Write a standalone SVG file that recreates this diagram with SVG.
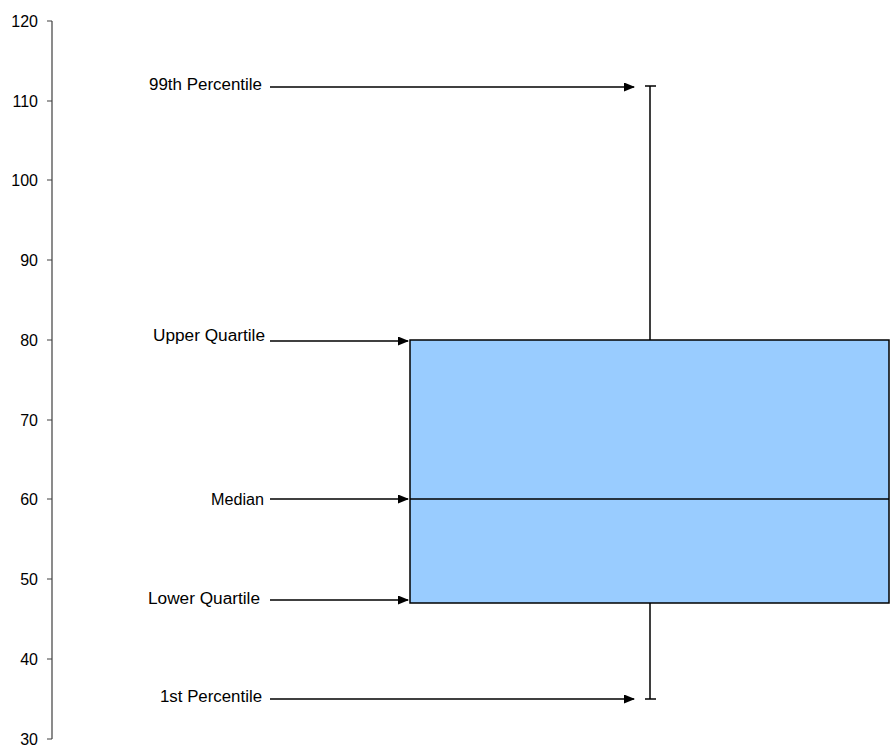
<svg xmlns="http://www.w3.org/2000/svg" width="891" height="753" viewBox="0 0 891 753">
<defs>
<marker id="ah" markerWidth="11" markerHeight="9" refX="10" refY="4.5" orient="auto" markerUnits="userSpaceOnUse">
<path d="M0,0 L11,4.5 L0,9 Z" fill="#000"/>
</marker>
<style>
text{font-family:"Liberation Sans",Arial,sans-serif;fill:#000}
.ax{text-anchor:end;font-size:16px}
.lb{font-size:16px}
.axl{stroke:#404040;stroke-width:1.2;fill:none}
.conn{stroke:#000;stroke-width:1.5;fill:none;marker-end:url(#ah)}
.wh{stroke:#000;stroke-width:1.5;fill:none}
</style>
</defs>
<rect width="891" height="753" fill="#fff"/>
<g id="axis">
<path class="axl" d="M52,21 V739 M47,21 H52 M47,101 H52 M47,180 H52 M47,260 H52 M47,340 H52 M47,420 H52 M47,499 H52 M47,579 H52 M47,659 H52 M47,739 H52"/>
<text class="ax" x="38" y="27">120</text>
<text class="ax" x="38" y="107">110</text>
<text class="ax" x="38" y="186">100</text>
<text class="ax" x="38" y="266">90</text>
<text class="ax" x="38" y="346">80</text>
<text class="ax" x="38" y="426">70</text>
<text class="ax" x="38" y="505">60</text>
<text class="ax" x="38" y="585">50</text>
<text class="ax" x="38" y="665">40</text>
<text class="ax" x="38" y="745">30</text>
</g>
<g id="whisker">
<path class="wh" d="M650,86 V340 M645,86 H656 M650,603 V699 M645,699 H656"/>
</g>
<g id="box">
<rect x="410" y="340" width="479" height="263" fill="#99CCFF" stroke="#000" stroke-width="1.5"/>
<line x1="410" y1="499" x2="889" y2="499" stroke="#000" stroke-width="1.5"/>
</g>
<g id="labels">
<text class="lb" x="149" y="90" textLength="113" lengthAdjust="spacingAndGlyphs">99th Percentile</text>
<text class="lb" x="153" y="341" textLength="112" lengthAdjust="spacingAndGlyphs">Upper Quartile</text>
<text class="lb" x="211" y="505" textLength="53" lengthAdjust="spacingAndGlyphs">Median</text>
<text class="lb" x="148" y="604" textLength="112" lengthAdjust="spacingAndGlyphs">Lower Quartile</text>
<text class="lb" x="160" y="702" textLength="102" lengthAdjust="spacingAndGlyphs">1st Percentile</text>
</g>
<g id="connectors">
<line class="conn" x1="270" y1="87" x2="634" y2="87"/>
<line class="conn" x1="270" y1="341" x2="408" y2="341"/>
<line class="conn" x1="270" y1="499" x2="408" y2="499"/>
<line class="conn" x1="270" y1="600" x2="408" y2="600"/>
<line class="conn" x1="270" y1="699" x2="634" y2="699"/>
</g>
</svg>
